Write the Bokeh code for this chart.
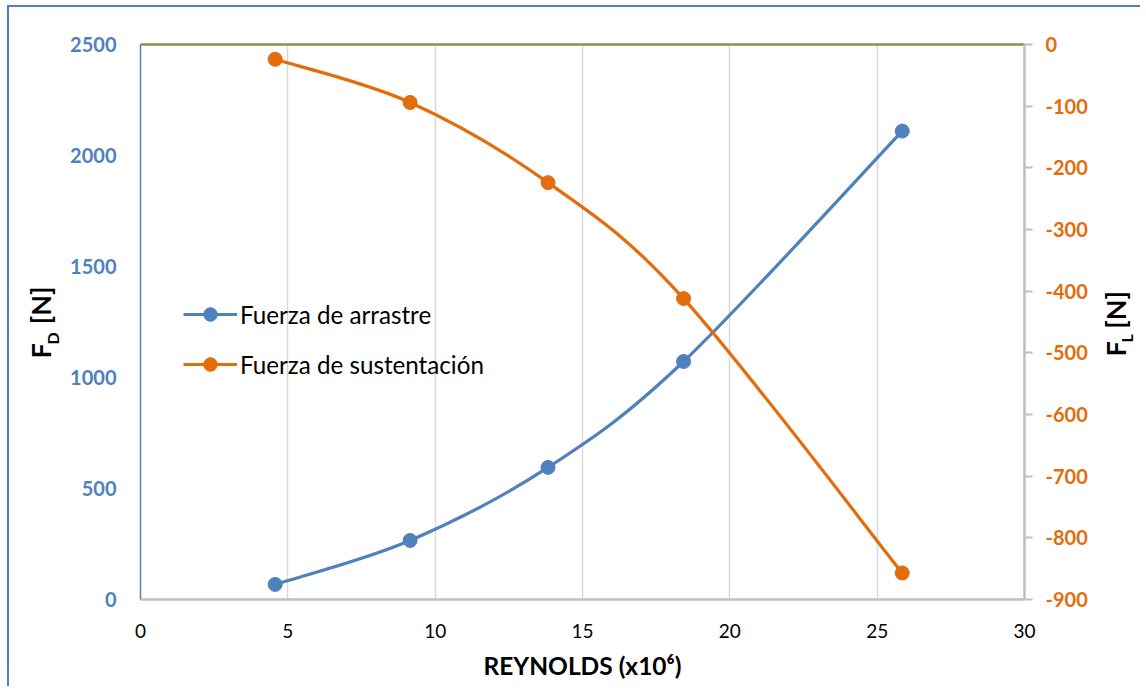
import math
from bokeh.plotting import figure
from bokeh.models import (Range1d, LinearAxis, FixedTicker, Legend, LegendItem, Label,
                          PrintfTickFormatter)
from bokeh.embed import file_html
from bokeh.resources import INLINE

# ---- data ----
reynolds = [4.57, 9.15, 13.83, 18.43, 25.85]
fuerza_arrastre = [68, 266, 595, 1072, 2110]
fuerza_sustentacion = [-24, -94, -224, -412, -857]
x_ticks = [0, 5, 10, 15, 20, 25, 30]
left_ticks = [0, 500, 1000, 1500, 2000, 2500]
right_ticks = [0, -100, -200, -300, -400, -500, -600, -700, -800, -900]

BLUE = "#4F81BD"
ORANGE = "#E46C0A"
GRAY = "#BFBFBF"
FONT = "Lato"


def smooth_segments(xs, ys, k=6.0):
    n = len(xs)
    seg = dict(x0=[], y0=[], x1=[], y1=[], cx0=[], cy0=[], cx1=[], cy1=[])
    for i in range(n - 1):
        xa, ya = (xs[i - 1], ys[i - 1]) if i > 0 else (xs[i], ys[i])
        xb, yb = (xs[i + 2], ys[i + 2]) if i + 2 < n else (xs[i + 1], ys[i + 1])
        seg["x0"].append(xs[i]); seg["y0"].append(ys[i])
        seg["x1"].append(xs[i + 1]); seg["y1"].append(ys[i + 1])
        seg["cx0"].append(xs[i] + (xs[i + 1] - xa) / k)
        seg["cy0"].append(ys[i] + (ys[i + 1] - ya) / k)
        seg["cx1"].append(xs[i + 1] - (xb - xs[i]) / k)
        seg["cy1"].append(ys[i + 1] - (yb - ys[i]) / k)
    return seg


p = figure(width=1133, height=681, x_range=Range1d(0, 30), y_range=Range1d(0, 2500),
           output_backend="svg", toolbar_location=None,
           min_border_left=131, min_border_right=115, min_border_top=37, min_border_bottom=89)
p.extra_y_ranges = {"right": Range1d(-900, 0)}
p.outline_line_color = None
p.background_fill_color = "white"
p.border_fill_color = "white"
p.styles = {"border-top": "2px solid #4F81BD", "border-left": "2px solid #4F81BD",
            "margin-left": "7px", "margin-top": "5px"}

p.xgrid.ticker = FixedTicker(ticks=[5, 10, 15, 20, 25])
p.xgrid.grid_line_color = "#D9D9D9"
p.xgrid.grid_line_width = 1.5
p.ygrid.visible = False

xa = p.xaxis[0]
xa.ticker = FixedTicker(ticks=x_ticks)
xa.axis_line_color = GRAY
xa.axis_line_width = 2.5
xa.major_tick_line_color = None
xa.minor_tick_line_color = None
xa.major_label_text_font = FONT
xa.major_label_text_font_size = "19px"
xa.major_label_text_color = "black"
xa.major_label_standoff = 18
xa.axis_label = "REYNOLDS (x10⁶)"
xa.axis_label_text_font = FONT
xa.axis_label_text_font_style = "bold"
xa.axis_label_text_font_size = "24.5px"
xa.axis_label_text_color = "black"
xa.axis_label_standoff = 10

ya = p.yaxis[0]
ya.ticker = FixedTicker(ticks=left_ticks)
ya.axis_line_color = BLUE
ya.axis_line_width = 1.5
ya.major_tick_line_color = None
ya.minor_tick_line_color = None
ya.major_label_text_font = FONT
ya.major_label_text_font_style = "bold"
ya.major_label_text_font_size = "20px"
ya.major_label_text_color = BLUE
ya.major_label_standoff = 18

ra = LinearAxis(y_range_name="right", ticker=FixedTicker(ticks=right_ticks),
                formatter=PrintfTickFormatter(format="%d"))
ra.axis_line_color = GRAY
ra.axis_line_width = 2.5
ra.major_tick_line_color = GRAY
ra.major_tick_line_width = 2
ra.major_tick_out = 8
ra.major_tick_in = 0
ra.minor_tick_line_color = None
ra.major_label_text_font = FONT
ra.major_label_text_font_style = "bold"
ra.major_label_text_font_size = "20px"
ra.major_label_text_color = ORANGE
ra.major_label_standoff = 13
p.add_layout(ra, "right")

ta = LinearAxis(ticker=FixedTicker(ticks=[]))
ta.axis_line_color = "#948A54"
ta.axis_line_width = 2.5
ta.major_tick_line_color = None
ta.minor_tick_line_color = None
ta.major_label_text_alpha = 0
p.add_layout(ta, "above")

# series
sb = smooth_segments(reynolds, fuerza_arrastre)
p.bezier(x0=sb["x0"], y0=sb["y0"], x1=sb["x1"], y1=sb["y1"],
         cx0=sb["cx0"], cy0=sb["cy0"], cx1=sb["cx1"], cy1=sb["cy1"],
         line_color=BLUE, line_width=3.2)
b_pts = p.scatter(reynolds, fuerza_arrastre, size=14, color=BLUE)
b_leg = p.line(x=reynolds[:1], y=fuerza_arrastre[:1], line_color=BLUE, line_width=3.2)

so = smooth_segments(reynolds, fuerza_sustentacion)
p.bezier(x0=so["x0"], y0=so["y0"], x1=so["x1"], y1=so["y1"],
         cx0=so["cx0"], cy0=so["cy0"], cx1=so["cx1"], cy1=so["cy1"],
         line_color=ORANGE, line_width=3.2, y_range_name="right")
o_pts = p.scatter(reynolds, fuerza_sustentacion, size=14, color=ORANGE, y_range_name="right")
o_leg = p.line(x=reynolds[:1], y=fuerza_sustentacion[:1], line_color=ORANGE, line_width=3.2,
               y_range_name="right")

legend = Legend(items=[LegendItem(label="Fuerza de arrastre", renderers=[b_leg, b_pts]),
                       LegendItem(label="Fuerza de sustentación", renderers=[o_leg, o_pts])],
                location=(43, 218), orientation="vertical",
                background_fill_alpha=0, border_line_color=None,
                glyph_width=54, glyph_height=34, label_standoff=3, spacing=16,
                padding=0, margin=0,
                label_text_font=FONT, label_text_font_size="24.2px", label_text_color="black")
p.add_layout(legend)

# rotated axis titles (F with subscript) placed in the side panels
common = dict(x_units="screen", y_units="screen", angle=math.pi / 2,
              text_font=FONT, text_font_style="bold", text_color="black",
              text_align="left", text_baseline="alphabetic")
NB = "\u00a0"
p.add_layout(Label(x=6, y=241, text="F" + NB * 3 + "[N]", text_font_size="27px", **common), "left")
p.add_layout(Label(x=37, y=255, text="D", text_font_size="16px", **common), "left")
p.add_layout(Label(x=25, y=243, text="F" + NB * 2 + "[N]", text_font_size="27px", **common), "right")
p.add_layout(Label(x=3, y=257, text="L", text_font_size="16px", **common), "right")

open("out.html", "w").write(file_html(p, INLINE))
